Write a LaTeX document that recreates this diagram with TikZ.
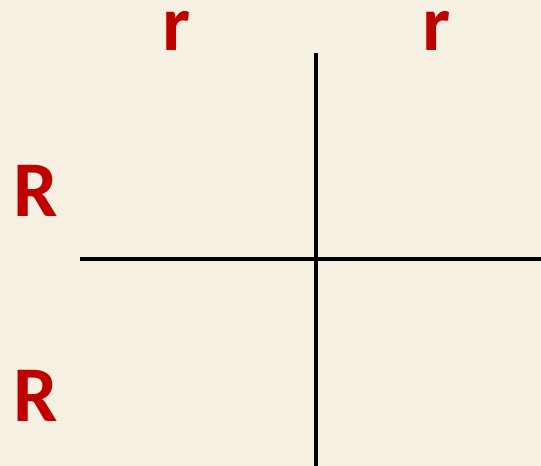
\documentclass[tikz,border=0pt]{standalone}
\usepackage{fontspec}
\setmainfont{Carlito}
\usepackage{tikz}
\definecolor{parchment}{HTML}{F5F0E1}
\definecolor{allele}{HTML}{C00000}
\tikzset{
  allele/.style={text=allele,font=\fontsize{79}{79}\selectfont\bfseries,inner sep=0pt,anchor=base},
  grid/.style={line width=4pt,black}
}

\begin{document}
\begin{tikzpicture}[x=1pt,y=1pt]
  \fill[parchment] (0,0) rectangle (541,466);
  \useasboundingbox (0,0) rectangle (541,466);
  % punnett grid
  \draw[grid] (315.5,413)--(315.5,0);
  \draw[grid] (80,206.5)--(541,206.5);
  % alleles
  \node[allele] (r1) at (176.5,415) {r};
  \node[allele] (r2) at (436.5,415) {r};
  \node[allele] (R1) at (36,249) {R};
  \node[allele] (R2) at (36,44) {R};
\end{tikzpicture}
\end{document}
